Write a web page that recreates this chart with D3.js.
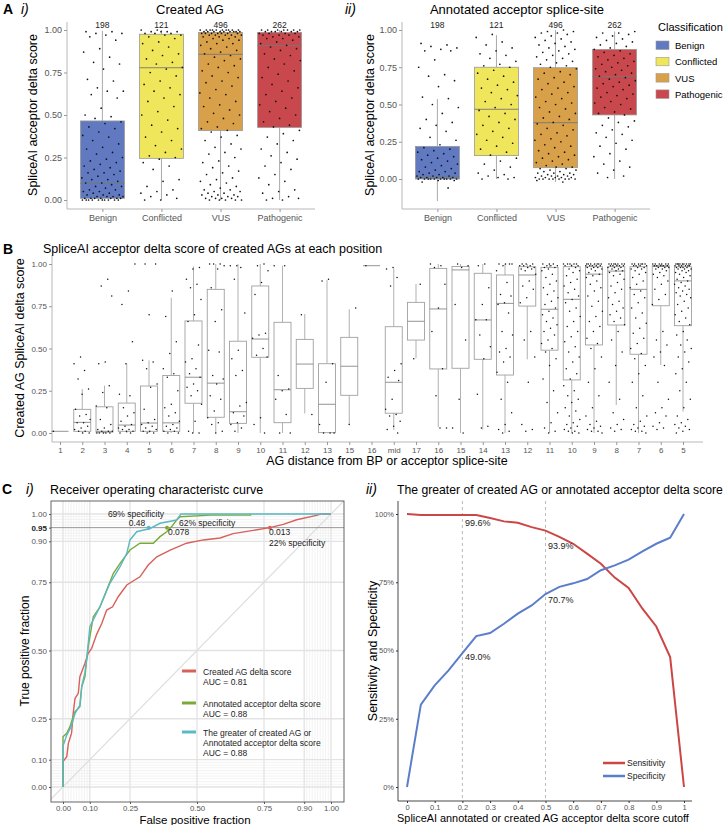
<!DOCTYPE html>
<html><head><meta charset="utf-8">
<script src="https://cdn.jsdelivr.net/npm/d3@7"></script>
<style>body{margin:0;background:#fff;} svg{display:block;}</style>
</head><body>
<script>
const FONT = '"Liberation Sans", Arial, Helvetica, sans-serif';

// ---------- Panel A data ----------
const classes = ["Benign","Conflicted","VUS","Pathogenic"];
const classColors = ["#6079c1","#f0e65b","#d9a04a","#c9484e"];
const classCounts = [198,121,496,262];
// box stats: [lowerWhisker, q1, median, q3, upperWhisker]
const createdBox = [[0,0.01,0.098,0.465,0.996],[0,0.245,0.778,0.975,1.0],[0,0.408,0.857,0.986,1.0],[0,0.427,0.908,0.986,1.0]];
const annotatedBox = [[-0.148,0.0,0.016,0.219,0.537],[0,0.157,0.468,0.75,0.966],[-0.02,0.076,0.378,0.747,1.0],[0,0.43,0.687,0.87,0.99]];

const createdBenign = [0.99,0.99,0.98,0.98,0.97,0.96,0.94,0.89,0.87,0.84,0.81,0.80,0.77,0.71,0.70,0.66,0.64,0.64,0.62,0.60,0.54,0.50,0.49,0.48,0.46,0.45,0.43,0.42,0.40,0.38,0.37,0.35,0.33,0.31,0.30,0.28,0.27,0.25,0.24,0.23,0.22,0.21,0.20,0.19,0.18,0.17,0.16,0.16,0.15,0.14,0.13,0.12,0.12,0.11,0.10,0.10,0.09,0.08,0.08,0.07,0.06,0.06,0.05,0.05,0.04,0.04,0.03,0.03,0.03,0.02,0.02,0.02,0.02,0.01,0.01,0.01,0.01,0.01,0.01,0.01,0.00,0.00,0.00,0.00,0.00,0.00,0.00,0.00,0.00,0.00];
const createdConflicted = [1.0,1.0,0.99,0.99,0.99,0.99,0.98,0.98,0.98,0.97,0.97,0.96,0.95,0.93,0.92,0.90,0.88,0.86,0.85,0.83,0.81,0.80,0.78,0.77,0.75,0.73,0.70,0.68,0.66,0.64,0.62,0.60,0.58,0.55,0.52,0.50,0.47,0.44,0.42,0.40,0.37,0.35,0.32,0.30,0.28,0.26,0.25,0.24,0.22,0.20,0.18,0.12,0.11,0.08,0.06,0.05,0.04,0.03,0.02,0.01,0.00,0.00];
const createdVUS = [1.0,1.0,1.0,1.0,1.0,1.0,1.0,1.0,1.0,1.0,0.99,0.99,0.99,0.99,0.99,0.99,0.99,0.99,0.99,0.98,0.98,0.98,0.98,0.98,0.98,0.98,0.97,0.97,0.97,0.97,0.97,0.96,0.96,0.96,0.95,0.95,0.94,0.94,0.93,0.92,0.92,0.91,0.90,0.89,0.88,0.87,0.86,0.85,0.84,0.83,0.82,0.80,0.79,0.78,0.76,0.75,0.73,0.72,0.70,0.69,0.67,0.65,0.63,0.62,0.60,0.58,0.56,0.55,0.53,0.51,0.50,0.48,0.46,0.45,0.43,0.42,0.41,0.40,0.38,0.37,0.35,0.33,0.31,0.30,0.28,0.27,0.25,0.23,0.22,0.20,0.19,0.17,0.16,0.15,0.13,0.12,0.11,0.10,0.09,0.08,0.07,0.06,0.06,0.05,0.05,0.04,0.04,0.03,0.03,0.03,0.02,0.02,0.02,0.01,0.01,0.01,0.01,0.00,0.00,0.00,0.00,0.00];
const createdPathogenic = [1.0,1.0,1.0,1.0,1.0,1.0,1.0,0.99,0.99,0.99,0.99,0.99,0.99,0.98,0.98,0.98,0.98,0.97,0.97,0.97,0.96,0.96,0.95,0.95,0.94,0.93,0.92,0.91,0.90,0.89,0.88,0.86,0.85,0.83,0.82,0.80,0.78,0.76,0.74,0.72,0.70,0.68,0.66,0.64,0.62,0.60,0.58,0.56,0.54,0.52,0.50,0.48,0.46,0.44,0.43,0.41,0.39,0.37,0.35,0.33,0.30,0.28,0.26,0.24,0.22,0.20,0.18,0.15,0.13,0.11,0.09,0.06,0.05,0.04,0.02,0.01,0.01,0.00,0.00];

const annotBenign = [0.91,0.90,0.89,0.88,0.87,0.86,0.86,0.80,0.75,0.70,0.69,0.66,0.62,0.55,0.54,0.50,0.48,0.44,0.40,0.38,0.36,0.34,0.32,0.28,0.26,0.23,0.21,0.20,0.19,0.18,0.17,0.16,0.15,0.14,0.13,0.12,0.11,0.10,0.09,0.08,0.07,0.06,0.05,0.05,0.04,0.04,0.03,0.03,0.02,0.02,0.02,0.01,0.01,0.01,0.01,0.01,0.00,0.00,0.00,0.00,0.00,0.00,0.00,0.00,0.00,0.00,-0.01,-0.01,-0.02,-0.06];
const annotConflicted = [0.97,0.95,0.92,0.90,0.88,0.86,0.84,0.83,0.81,0.79,0.77,0.76,0.75,0.73,0.71,0.69,0.67,0.65,0.63,0.61,0.60,0.58,0.56,0.54,0.52,0.50,0.48,0.46,0.44,0.42,0.40,0.38,0.36,0.34,0.32,0.30,0.28,0.26,0.24,0.22,0.20,0.18,0.16,0.14,0.12,0.10,0.08,0.06,0.04,0.03,0.02,0.01,0.01,0.00,0.00];
const annotVUS = [1.0,0.99,0.99,0.98,0.98,0.97,0.96,0.95,0.94,0.93,0.92,0.91,0.90,0.89,0.88,0.87,0.86,0.85,0.84,0.83,0.82,0.81,0.80,0.79,0.78,0.77,0.76,0.75,0.74,0.72,0.71,0.70,0.68,0.67,0.65,0.64,0.62,0.61,0.60,0.58,0.57,0.55,0.54,0.52,0.51,0.50,0.48,0.47,0.45,0.44,0.42,0.41,0.40,0.38,0.37,0.36,0.34,0.33,0.31,0.30,0.29,0.27,0.26,0.25,0.23,0.22,0.21,0.19,0.18,0.17,0.16,0.15,0.14,0.13,0.12,0.11,0.10,0.09,0.08,0.08,0.07,0.07,0.06,0.06,0.05,0.05,0.04,0.04,0.04,0.03,0.03,0.03,0.02,0.02,0.02,0.02,0.01,0.01,0.01,0.01,0.01,0.00,0.00,0.00,0.00,0.00,0.00,0.00,0.00,-0.01,-0.02];
const annotPathogenic = [0.99,0.98,0.98,0.97,0.96,0.95,0.94,0.93,0.92,0.91,0.90,0.89,0.88,0.87,0.86,0.85,0.84,0.83,0.82,0.81,0.80,0.79,0.78,0.77,0.76,0.75,0.74,0.73,0.72,0.71,0.70,0.69,0.68,0.67,0.66,0.65,0.64,0.63,0.62,0.61,0.60,0.58,0.57,0.56,0.55,0.54,0.52,0.51,0.50,0.48,0.47,0.45,0.44,0.43,0.41,0.39,0.38,0.36,0.35,0.33,0.31,0.30,0.28,0.26,0.24,0.22,0.20,0.17,0.15,0.12,0.10,0.08,0.06,0.04,0.02,0.01];

// ---------- Panel B data ----------
const posLabels = ["1","2","3","4","5","6","7","8","9","10","11","12","13","15","16","mid","17","16","15","14","13","12","11","10","9","8","7","6","5"];
// [lowerWhisker, q1, median, q3, upperWhisker]
const posBox = [
 [0.01,0.01,0.01,0.01,0.01],[0,0.01,0.063,0.14,0.26],[0,0.005,0.01,0.155,0.28],[0,0.01,0.047,0.177,0.41],
 [0,0.01,0.059,0.278,0.43],[0,0.01,0.06,0.34,0.80],[0,0.176,0.33,0.663,0.985],[0,0.093,0.295,0.85,1.0],
 [0,0.057,0.126,0.543,1.0],[0,0.448,0.556,0.87,1.0],[0,0.061,0.256,0.655,0.99],[0.116,0.264,0.408,0.554,0.704],
 [0,0.002,0.17,0.41,0.905],[0.053,0.223,0.395,0.566,0.732],[0.99,0.99,0.99,0.99,0.99],
 [0.018,0.117,0.30,0.629,0.974],[0.442,0.55,0.661,0.773,0.882],[0.034,0.379,0.734,0.974,1.0],
 [0,0.383,0.965,0.985,1.0],[0.02,0.436,0.669,0.945,1.0],[0,0.343,0.767,0.935,1.0],[0.436,0.751,0.935,0.984,1.0],
 [0,0.49,0.732,0.98,1.0],[0,0.314,0.791,0.984,1.0],[0,0.521,0.94,0.984,1.0],[0.166,0.639,0.958,0.984,1.0],
 [0,0.466,0.85,0.984,1.0],[0.402,0.753,0.985,0.99,1.0],[0.126,0.635,0.90,0.984,1.0]
];
const posPoints = [
 [0.01],
 [0.45,0.41,0.37,0.32,0.26,0.23,0.14,0.11,0.10,0.08,0.06,0.06,0.04,0.03,0.02,0.01,0.01,0.00,0.00],
 [0.91,0.87,0.81,0.42,0.41,0.28,0.24,0.16,0.15,0.08,0.05,0.03,0.02,0.01,0.01,0.01,0.00,0.00,0.00,0.00,0.00],
 [1.0,0.84,0.76,0.54,0.41,0.23,0.22,0.15,0.12,0.10,0.07,0.05,0.04,0.03,0.02,0.02,0.01,0.01,0.00,0.00],
 [1.0,1.0,0.70,0.43,0.42,0.38,0.29,0.27,0.14,0.08,0.06,0.05,0.04,0.03,0.02,0.01,0.01,0.00,0.00],
 [0.84,0.69,0.54,0.47,0.38,0.35,0.33,0.25,0.17,0.15,0.12,0.10,0.07,0.05,0.04,0.03,0.02,0.01,0.01,0.00,0.00],
 [0.98,0.97,0.91,0.88,0.86,0.79,0.70,0.66,0.52,0.44,0.42,0.38,0.35,0.33,0.29,0.27,0.25,0.22,0.17,0.07,0.01,0.00,0.00],
 [1.0,1.0,1.0,0.99,0.97,0.86,0.73,0.66,0.49,0.48,0.34,0.32,0.29,0.22,0.20,0.13,0.09,0.06,0.05,0.01,0.00],
 [0.99,0.99,0.98,0.91,0.71,0.49,0.44,0.37,0.34,0.18,0.16,0.12,0.10,0.06,0.05,0.03,0.01],
 [1.0,0.99,0.96,0.89,0.82,0.59,0.58,0.56,0.50,0.46,0.45,0.09,0.05,0.00],
 [0.99,0.99,0.34,0.26,0.25,0.20,0.11,0.00,0.00],
 [0.70,0.11],
 [0.91,0.90,0.41,0.30,0.05,0.00,0.00,0.00],
 [0.74,0.05],
 [0.99],
 [0.98,0.97,0.92,0.87,0.41,0.37,0.33,0.31,0.20,0.14,0.11,0.10,0.07,0.04,0.02,0.00],
 [0.88,0.44],
 [1.0,0.99,0.98,0.88,0.74,0.60,0.38,0.22,0.03,0.03],
 [1.0,0.99,0.98,0.76,0.55,0.20,0.03,0.00],
 [1.0,0.99,0.86,0.76,0.67,0.67,0.58,0.51,0.44,0.23,0.04,0.03],
 [1.0,1.0,1.0,1.0,0.99,0.96,0.89,0.82,0.81,0.77,0.76,0.71,0.60,0.58,0.50,0.48,0.45,0.42,0.36,0.30,0.20,0.12,0.05,0.02,0.01,0.00],
 [1.0,1.0,1.0,0.99,0.99,0.99,0.98,0.98,0.97,0.97,0.96,0.94,0.90,0.87,0.85,0.80,0.77,0.60,0.55,0.45,0.30,0.05,0.02,0.01],
 [1.0,1.0,1.0,0.99,0.99,0.99,0.98,0.98,0.97,0.96,0.94,0.92,0.90,0.88,0.86,0.84,0.82,0.80,0.78,0.76,0.74,0.72,0.70,0.68,0.66,0.64,0.62,0.60,0.58,0.55,0.53,0.50,0.48,0.44,0.40,0.32,0.25,0.18,0.12,0.06,0.03,0.01,0.00],
 [1.0,1.0,1.0,1.0,1.0,0.99,0.99,0.99,0.98,0.97,0.96,0.95,0.93,0.91,0.89,0.87,0.85,0.83,0.81,0.79,0.77,0.74,0.72,0.69,0.66,0.63,0.60,0.57,0.54,0.51,0.48,0.45,0.42,0.38,0.35,0.32,0.28,0.25,0.22,0.20,0.18,0.15,0.13,0.10,0.08,0.06,0.05,0.04,0.03,0.02,0.01,0.01,0.00,0.00],
 [1.0,1.0,1.0,1.0,1.0,1.0,1.0,0.99,0.99,0.99,0.99,0.99,0.98,0.98,0.98,0.97,0.97,0.96,0.95,0.94,0.93,0.92,0.90,0.88,0.86,0.84,0.81,0.78,0.75,0.72,0.69,0.66,0.63,0.60,0.56,0.53,0.50,0.45,0.38,0.30,0.22,0.15,0.10,0.07,0.05,0.04,0.03,0.02,0.01,0.01,0.00],
 [1.0,1.0,1.0,1.0,1.0,1.0,1.0,0.99,0.99,0.99,0.99,0.99,0.98,0.98,0.98,0.97,0.97,0.96,0.96,0.95,0.94,0.93,0.91,0.89,0.87,0.85,0.83,0.80,0.78,0.76,0.74,0.72,0.70,0.68,0.66,0.64,0.60,0.55,0.48,0.40,0.30,0.20,0.12,0.08,0.05,0.03,0.02,0.01],
 [1.0,1.0,1.0,1.0,1.0,1.0,0.99,0.99,0.99,0.99,0.98,0.98,0.97,0.97,0.96,0.95,0.94,0.92,0.90,0.88,0.86,0.84,0.82,0.80,0.77,0.74,0.71,0.68,0.65,0.62,0.59,0.56,0.53,0.50,0.47,0.44,0.40,0.35,0.30,0.22,0.15,0.10,0.07,0.05,0.04,0.03,0.02,0.01,0.01,0.00],
 [1.0,1.0,1.0,1.0,1.0,1.0,0.99,0.99,0.99,0.99,0.99,0.98,0.98,0.98,0.97,0.97,0.96,0.95,0.94,0.93,0.92,0.90,0.88,0.85,0.82,0.79,0.76,0.60,0.55,0.52,0.48,0.45,0.40,0.30,0.20,0.15,0.12,0.10,0.06,0.04,0.03,0.02],
 [1.0,1.0,1.0,1.0,1.0,1.0,1.0,1.0,1.0,0.99,0.99,0.99,0.99,0.99,0.99,0.98,0.98,0.98,0.98,0.97,0.97,0.97,0.96,0.96,0.95,0.95,0.94,0.93,0.92,0.91,0.90,0.89,0.88,0.87,0.86,0.85,0.84,0.83,0.82,0.81,0.80,0.78,0.76,0.74,0.72,0.70,0.68,0.66,0.64,0.60,0.58,0.55,0.52,0.50,0.48,0.45,0.42,0.38,0.35,0.30,0.25,0.20,0.15,0.10,0.08,0.06,0.05,0.04,0.03,0.02,0.01,0.00]
];

// ---------- Panel C i data (ROC: [FPR, TPR]) ----------
const rocCreated = [[0,0],[0,0.093],[0.014,0.111],[0.02,0.16],[0.032,0.197],[0.038,0.27],[0.045,0.325],[0.057,0.343],[0.063,0.404],[0.082,0.453],[0.094,0.49],[0.107,0.508],[0.126,0.56],[0.145,0.6],[0.163,0.648],[0.185,0.66],[0.206,0.697],[0.238,0.74],[0.287,0.77],[0.318,0.813],[0.35,0.843],[0.40,0.868],[0.461,0.893],[0.524,0.905],[0.586,0.912],[0.635,0.928],[0.71,0.94],[0.772,0.95],[0.822,0.962],[0.872,0.979],[0.946,0.995],[0.961,1],[1,1]];
const rocAnnotated = [[0,0],[0,0.184],[0.014,0.197],[0.026,0.221],[0.038,0.258],[0.045,0.276],[0.063,0.294],[0.07,0.367],[0.082,0.404],[0.088,0.465],[0.094,0.514],[0.113,0.624],[0.138,0.66],[0.163,0.722],[0.188,0.783],[0.213,0.819],[0.25,0.868],[0.287,0.893],[0.337,0.893],[0.362,0.917],[0.387,0.935],[0.405,0.953],[0.424,0.978],[0.437,0.99],[0.55,0.996],[0.70,0.996],[0.70,1]];
const rocGreater = [[0,0],[0,0.15],[0.014,0.19],[0.03,0.22],[0.045,0.27],[0.063,0.3],[0.07,0.37],[0.082,0.42],[0.09,0.48],[0.1,0.587],[0.138,0.66],[0.175,0.746],[0.213,0.807],[0.238,0.856],[0.25,0.905],[0.275,0.935],[0.325,0.947],[0.362,0.966],[0.424,0.978],[0.437,0.996],[0.44,1],[1,1]];
const rocNames = ["Created AG delta score","Annotated acceptor delta score","The greater of created AG or|Annotated acceptor delta score"];
const rocAUC = ["0.81","0.88","0.88"];
const rocColors = ["#d8605a","#79aa38","#5bb8c4"];
const cutPoints = [[0.772,0.95],[0.388,0.95],[0.32,0.95]]; // red, green, cyan at 95% sensitivity

// ---------- Panel C ii data ----------
const cutoffs = [0,0.05,0.1,0.15,0.2,0.25,0.3,0.35,0.4,0.45,0.5,0.55,0.6,0.65,0.7,0.75,0.8,0.85,0.9,0.95,1];
const sensitivity = [1.0,0.996,0.996,0.996,0.996,0.996,0.985,0.973,0.968,0.952,0.939,0.916,0.891,0.855,0.818,0.767,0.729,0.653,0.588,0.476,0.0];
const specificity = [0.0,0.302,0.372,0.427,0.49,0.553,0.564,0.598,0.635,0.665,0.707,0.733,0.746,0.762,0.794,0.812,0.833,0.863,0.891,0.913,1.0];

// ======================================================
const svg = d3.select("body").append("svg").attr("width",726).attr("height",825)
  .style("background","#fff").attr("font-family",FONT);

function jit(i, s){ return ((i*0.6180339887 + s*0.29 + 0.11) % 1) - 0.5; }
function txt(g, x, y, s, fs, opt={}){
  const t = g.append("text").attr("x",x).attr("y",y).text(s).attr("font-size",fs)
    .attr("fill",opt.fill||"#000").attr("text-anchor",opt.anchor||"start");
  if(opt.weight) t.attr("font-weight",opt.weight);
  if(opt.style) t.attr("font-style",opt.style);
  return t;
}
function fitWidth(t, w){
  const cur = t.node().getComputedTextLength();
  if(cur > w){ const fs = parseFloat(t.attr("font-size")); t.attr("font-size", (fs*w/cur).toFixed(2)); }
  return t;
}
function vtxt(g, cx, cy, s, fs){
  return g.append("text").attr("transform",`translate(${cx},${cy}) rotate(-90)`)
    .attr("text-anchor","middle").attr("dy","0.35em").attr("font-size",fs).text(s);
}
function styleAxis(a, fs, col, tickCol){
  a.attr("font-family",FONT).attr("font-size",fs);
  a.select(".domain").remove();
  a.selectAll(".tick line").attr("stroke",tickCol);
  a.selectAll(".tick text").attr("fill",col);
}

// ---------------- Panel A ----------------
function boxPanel(cfg){
  const g = svg.append("g");
  const x = d3.scalePoint().domain(classes).range(cfg.cRange);
  const y = d3.scaleLinear().domain([0,1]).range(cfg.yRange);
  const axCol = "#b8b8b8";
  g.append("line").attr("x1",cfg.ax0).attr("x2",cfg.ax0).attr("y1",cfg.axB).attr("y2",cfg.axT).attr("stroke",axCol).attr("stroke-width",1);
  g.append("line").attr("x1",cfg.ax0).attr("x2",cfg.ax1).attr("y1",cfg.axB).attr("y2",cfg.axB).attr("stroke",axCol).attr("stroke-width",1);
  const ya = g.append("g").attr("transform",`translate(${cfg.ax0},0)`)
    .call(d3.axisLeft(y).tickValues([0,0.25,0.5,0.75,1]).tickFormat(d3.format(".2f")).tickSize(3).tickPadding(2));
  styleAxis(ya, 9, "#555", "#999");
  const xa = g.append("g").attr("transform",`translate(0,${cfg.axB})`)
    .call(d3.axisBottom(x).tickSize(3).tickPadding(3));
  styleAxis(xa, 9, "#555", "#999");
  const bw = 44;
  classes.forEach((c,i)=>{
    const [lo,q1,md,q3,hi] = cfg.box[i];
    const cx = x(c);
    g.append("line").attr("x1",cx).attr("x2",cx).attr("y1",y(hi)).attr("y2",y(q3)).attr("stroke","#a0a0a0").attr("stroke-width",0.9);
    g.append("line").attr("x1",cx).attr("x2",cx).attr("y1",y(q1)).attr("y2",y(lo)).attr("stroke","#a0a0a0").attr("stroke-width",0.9);
    g.append("rect").attr("x",cx-bw/2).attr("y",y(q3)).attr("width",bw).attr("height",y(q1)-y(q3))
      .attr("fill",classColors[i]).attr("stroke","#999").attr("stroke-width",0.8);
    g.append("line").attr("x1",cx-bw/2).attr("x2",cx+bw/2).attr("y1",y(md)).attr("y2",y(md)).attr("stroke","#777").attr("stroke-width",0.9);
  });
  classes.forEach((c,i)=>{
    g.append("g").selectAll("circle").data(cfg.points[i]).join("circle")
      .attr("cx",(d,j)=>x(c)+jit(j,i)*42).attr("cy",d=>y(d)).attr("r",0.85).attr("fill","#111");
    txt(g, x(c), 28, String(classCounts[i]), 8.5, {anchor:"middle", fill:"#222"});
  });
  txt(g, cfg.titleX, 14, cfg.title, 13, {anchor:"middle"});
  vtxt(g, cfg.ylabX, 115, "SpliceAI acceptor delta score", 12.5);
}
boxPanel({cRange:[102.4,279.6], yRange:[200,30], ax0:67, ax1:315, axT:22, axB:209,
  box:createdBox, points:[createdBenign,createdConflicted,createdVUS,createdPathogenic],
  title:"Created AG", titleX:190, ylabX:33});
boxPanel({cRange:[437.4,614.6], yRange:[179,30], ax0:402, ax1:650, axT:22, axB:209,
  box:annotatedBox, points:[annotBenign,annotConflicted,annotVUS,annotPathogenic],
  title:"Annotated acceptor splice-site", titleX:517, ylabX:370});

txt(svg, 3, 14, "A", 14, {weight:"bold"});
txt(svg, 21, 14, "i)", 14, {style:"italic"});
txt(svg, 345, 14, "ii)", 14, {style:"italic"});

// legend A
{
  const g = svg.append("g");
  txt(g, 658, 31, "Classification", 11);
  classes.forEach((c,i)=>{
    const yy = 41 + i*16.3;
    g.append("rect").attr("x",656).attr("y",yy).attr("width",13).attr("height",8.5)
      .attr("fill",classColors[i]).attr("stroke","#999").attr("stroke-width",0.6);
    txt(g, 675, yy+8, c, 9.5);
  });
}

// ---------------- Panel B ----------------
{
  const g = svg.append("g");
  const keys = posLabels.map((d,i)=>i);
  const x = d3.scalePoint().domain(keys).range([60,683]);
  const y = d3.scaleLinear().domain([0,1]).range([433,264]);
  const axCol = "#b8b8b8";
  g.append("line").attr("x1",52).attr("x2",52).attr("y1",442).attr("y2",255).attr("stroke",axCol);
  g.append("line").attr("x1",52).attr("x2",703).attr("y1",442).attr("y2",442).attr("stroke",axCol);
  const ya = g.append("g").attr("transform","translate(52,0)")
    .call(d3.axisLeft(y).tickValues([0,0.25,0.5,0.75,1]).tickFormat(d3.format(".2f")).tickSize(3).tickPadding(2));
  styleAxis(ya, 8, "#555", "#999");
  const xa = g.append("g").attr("transform","translate(0,442)")
    .call(d3.axisBottom(x).tickFormat(i=>posLabels[i]).tickSize(3).tickPadding(2));
  styleAxis(xa, 8, "#555", "#999");
  const bw = 17;
  keys.forEach(i=>{
    const [lo,q1,md,q3,hi] = posBox[i];
    const cx = x(i);
    g.append("line").attr("x1",cx).attr("x2",cx).attr("y1",y(hi)).attr("y2",y(q3)).attr("stroke","#a8a8a8").attr("stroke-width",0.9);
    g.append("line").attr("x1",cx).attr("x2",cx).attr("y1",y(q1)).attr("y2",y(lo)).attr("stroke","#a8a8a8").attr("stroke-width",0.9);
    g.append("rect").attr("x",cx-bw/2).attr("y",y(q3)).attr("width",bw).attr("height",Math.max(0,y(q1)-y(q3)))
      .attr("fill","#fff").attr("stroke","#a0a0a0").attr("stroke-width",0.9);
    g.append("line").attr("x1",cx-bw/2).attr("x2",cx+bw/2).attr("y1",y(md)).attr("y2",y(md)).attr("stroke","#888").attr("stroke-width",0.9);
  });
  keys.forEach(i=>{
    g.append("g").selectAll("circle").data(posPoints[i]).join("circle")
      .attr("cx",(d,j)=>x(i)+jit(j,i)*17).attr("cy",d=>y(d)).attr("r",0.75).attr("fill","#111");
  });
  txt(svg, 3, 254, "B", 14, {weight:"bold"});
  txt(g, 43, 253, "SpliceAI acceptor delta score of created AGs at each position", 12.5);
  vtxt(g, 20, 348, "Created AG SpliceAI delta score", 12.5);
  txt(g, 387, 465, "AG distance from BP or acceptor splice-site", 12.5, {anchor:"middle"});
}

// ---------------- Panel C i ----------------
{
  const g = svg.append("g");
  const x = d3.scaleLinear().domain([0,1]).range([63,331]);
  const y = d3.scaleLinear().domain([0,1]).range([787,514]);
  const P = {x0:51, x1:344, y0:501, y1:802};
  svg.append("clipPath").attr("id","clipC").append("rect").attr("x",P.x0).attr("y",P.y0).attr("width",P.x1-P.x0).attr("height",P.y1-P.y0);
  const minor = d3.range(1,10).map(d=>d/100).concat(d3.range(91,100).map(d=>d/100));
  const major = [0,0.1,0.25,0.5,0.75,0.9,1];
  const gg = g.append("g").attr("clip-path","url(#clipC)");
  minor.forEach(v=>{
    gg.append("line").attr("x1",x(v)).attr("x2",x(v)).attr("y1",P.y0).attr("y2",P.y1).attr("stroke","#ebebeb").attr("stroke-width",0.6);
    gg.append("line").attr("y1",y(v)).attr("y2",y(v)).attr("x1",P.x0).attr("x2",P.x1).attr("stroke","#ebebeb").attr("stroke-width",0.6);
  });
  major.forEach(v=>{
    gg.append("line").attr("x1",x(v)).attr("x2",x(v)).attr("y1",P.y0).attr("y2",P.y1).attr("stroke","#e3e3e3").attr("stroke-width",1.3);
    gg.append("line").attr("y1",y(v)).attr("y2",y(v)).attr("x1",P.x0).attr("x2",P.x1).attr("stroke","#e3e3e3").attr("stroke-width",1.3);
  });
  gg.append("line").attr("x1",x(-0.1)).attr("y1",y(-0.1)).attr("x2",x(1.1)).attr("y2",y(1.1)).attr("stroke","#dedede").attr("stroke-width",1.2);
  gg.append("line").attr("x1",P.x0).attr("x2",P.x1).attr("y1",y(0.95)).attr("y2",y(0.95)).attr("stroke","#808080").attr("stroke-width",0.8);
  const line = d3.line().x(d=>x(d[0])).y(d=>y(d[1]));
  [rocCreated, rocAnnotated, rocGreater].forEach((r,i)=>{
    gg.append("path").attr("d",line(r)).attr("fill","none").attr("stroke",rocColors[i]).attr("stroke-width",1.4);
  });
  cutPoints.forEach((p,i)=>{
    gg.append("circle").attr("cx",x(p[0])).attr("cy",y(p[1])).attr("r",2).attr("fill",rocColors[i]);
  });
  g.append("rect").attr("x",P.x0).attr("y",P.y0).attr("width",P.x1-P.x0).attr("height",P.y1-P.y0)
    .attr("fill","none").attr("stroke","#555").attr("stroke-width",0.9);
  // axes
  const yt = [0,0.1,0.25,0.5,0.75,0.9,0.95,1];
  const ya = g.append("g").attr("transform",`translate(${P.x0},0)`)
    .call(d3.axisLeft(y).tickValues(yt).tickFormat(d3.format(".2f")).tickSize(2).tickPadding(2));
  styleAxis(ya, 8, "#555", "#555");
  ya.selectAll(".tick text").filter(d=>d===0.95).attr("font-weight","bold").attr("fill","#222");
  const xa = g.append("g").attr("transform",`translate(0,${P.y1})`)
    .call(d3.axisBottom(x).tickValues(major).tickFormat(d3.format(".2f")).tickSize(2).tickPadding(1));
  styleAxis(xa, 7.8, "#555", "#555");
  // annotations
  txt(g, 136, 517, "69% specificity", 8.5, {anchor:"middle", fill:"#222"});
  txt(g, 137, 526, "0.48", 8.5, {anchor:"middle", fill:"#222"});
  txt(g, 179, 526, "62% specificity", 8.5, {fill:"#222"});
  txt(g, 168, 535, "0.078", 8.5, {fill:"#222"});
  txt(g, 269, 535, "0.013", 8.5, {fill:"#222"});
  txt(g, 269, 546, "22% specificity", 8.5, {fill:"#222"});
  // legend
  const ly = [671, 703, 732];
  rocNames.forEach((n,i)=>{
    g.append("line").attr("x1",182).attr("x2",196).attr("y1",ly[i]).attr("y2",ly[i]).attr("stroke",rocColors[i]).attr("stroke-width",3);
    const lines = n.split("|").concat(["AUC = "+rocAUC[i]]);
    lines.forEach((s,k)=> txt(g, 203, ly[i]+3.5+k*10.3, s, 8.5, {fill:"#222"}));
  });
  txt(svg, 2, 494, "C", 14, {weight:"bold"});
  txt(svg, 26, 494, "i)", 14, {style:"italic"});
  txt(g, 50, 494, "Receiver operating characteristc curve", 12.5);
  vtxt(g, 25, 651, "True positive fraction", 12);
  txt(g, 195, 823.5, "False positive fraction", 11.5, {anchor:"middle"});
}

// ---------------- Panel C ii ----------------
{
  const g = svg.append("g");
  const x = d3.scaleLinear().domain([0,1]).range([407,684]);
  const y = d3.scaleLinear().domain([0,1]).range([787,514]);
  const axCol = "#333";
  [0.2,0.5].forEach(v=>{
    g.append("line").attr("x1",x(v)).attr("x2",x(v)).attr("y1",501).attr("y2",801).attr("stroke","#aaa").attr("stroke-width",0.8).attr("stroke-dasharray","3,3");
  });
  g.append("line").attr("x1",398).attr("x2",398).attr("y1",501).attr("y2",801).attr("stroke",axCol).attr("stroke-width",0.9);
  g.append("line").attr("x1",398).attr("x2",692).attr("y1",801).attr("y2",801).attr("stroke",axCol).attr("stroke-width",0.9);
  const ya = g.append("g").attr("transform","translate(398,0)")
    .call(d3.axisLeft(y).tickValues([0,0.25,0.5,0.75,1]).tickFormat(d3.format(".0%")).tickSize(2).tickPadding(2));
  styleAxis(ya, 7.5, "#555", "#333");
  const xa = g.append("g").attr("transform","translate(0,801)")
    .call(d3.axisBottom(x).tickValues(d3.range(0,11).map(d=>d/10)).tickFormat(d=>d3.format("")(+d.toFixed(1))).tickSize(2).tickPadding(2));
  styleAxis(xa, 7.5, "#555", "#333");
  const line = d3.line().x((d,i)=>x(cutoffs[i])).y(d=>y(d));
  g.append("path").attr("d",line(sensitivity)).attr("fill","none").attr("stroke","#cc4646").attr("stroke-width",2);
  g.append("path").attr("d",line(specificity)).attr("fill","none").attr("stroke","#5b7ecb").attr("stroke-width",2);
  // value labels
  const lab = [[0.2,sensitivity[4],"99.6%",11],[0.5,sensitivity[10],"93.9%",18.5],[0.5,specificity[10],"70.7%",9],[0.2,specificity[4],"49.0%",7]];
  lab.forEach(l=> txt(g, x(l[0])+2.5, y(l[1])+l[3], l[2], 9, {fill:"#222"}));
  // legend
  g.append("line").attr("x1",603).attr("x2",625).attr("y1",763).attr("y2",763).attr("stroke","#cc4646").attr("stroke-width",2.5);
  g.append("line").attr("x1",603).attr("x2",625).attr("y1",776).attr("y2",776).attr("stroke","#5b7ecb").attr("stroke-width",2.5);
  txt(g, 627, 766, "Sensitivity", 8.5, {fill:"#222"});
  txt(g, 627, 779, "Specificity", 8.5, {fill:"#222"});
  txt(svg, 366, 494, "ii)", 14, {style:"italic"});
  fitWidth(txt(g, 397, 494, "The greater of created AG or annotated acceptor delta score", 12.5), 326);
  vtxt(g, 373, 651, "Sensitivity and Specificity", 12.5);
  fitWidth(txt(g, 543, 822, "SpliceAI annotated or created AG acceptor delta score cutoff", 11.5, {anchor:"middle"}), 292);
}
</script>
</body></html>
